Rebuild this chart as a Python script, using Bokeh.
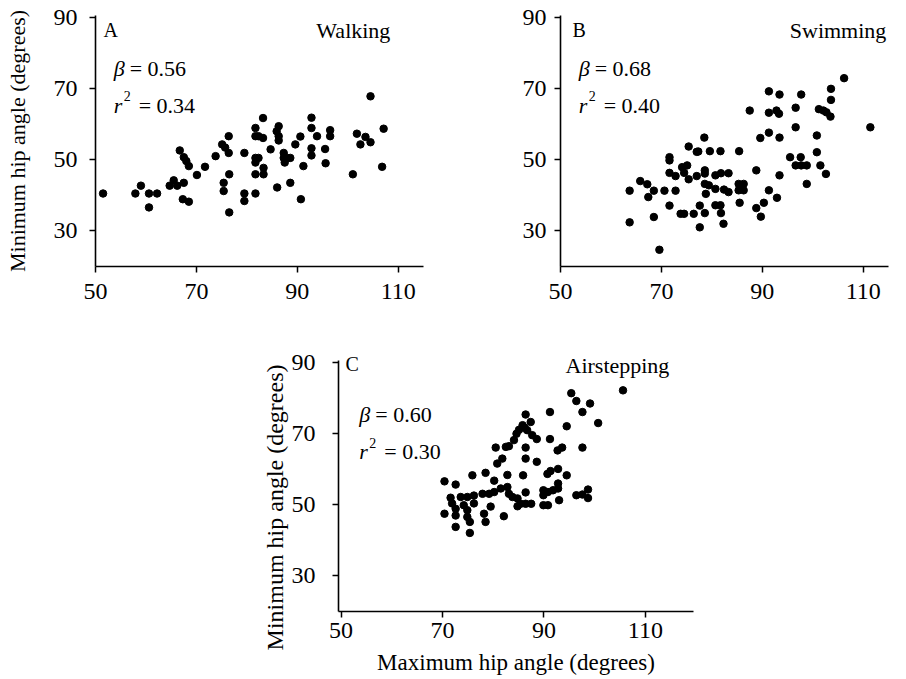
from bokeh.plotting import figure
from bokeh.models import Label, FixedTicker, Range1d, Spacer
from bokeh.layouts import column, row
from bokeh.embed import file_html
from bokeh.resources import INLINE

FONT = "Liberation Serif"

# ---------------- data ----------------
walk_x = [51.5, 57.9, 59.0, 60.6, 60.6, 62.2, 64.7, 65.5, 66.2, 67.5, 66.7, 67.5, 68.0, 68.5,
          67.3, 68.5, 70.1, 71.7, 73.8, 75.4, 75.4, 75.1, 75.7, 76.4, 76.4, 76.5, 76.5, 79.5,
          79.5, 79.5, 81.7, 81.7, 81.7, 82.3, 83.2, 83.2, 84.7, 81.7, 82.3, 81.7, 83.3, 83.3,
          81.7, 86.0, 88.6, 90.7, 86.3, 85.9, 86.3, 86.3, 87.3, 87.3, 88.0, 88.6, 87.5, 89.6,
          90.6, 91.2, 92.8, 92.8, 93.9, 92.8, 92.8, 95.5, 95.6, 96.5, 96.5, 101.0, 101.8, 103.5,
          102.5, 104.5, 104.5, 107.1, 106.8]
walk_y = [40.5, 40.5, 42.7, 40.5, 36.6, 40.5, 42.7, 44.2, 42.7, 43.5, 52.6, 50.7, 49.6, 48.2,
          38.9, 38.2, 45.7, 48.0, 51.0, 43.5, 41.2, 54.3, 53.4, 56.6, 51.9, 45.9, 35.2, 51.9,
          40.5, 38.4, 40.5, 58.9, 56.6, 56.6, 61.7, 56.1, 52.9, 50.5, 50.5, 49.2, 47.7, 45.9,
          45.9, 42.2, 43.5, 38.9, 59.4, 58.0, 56.6, 55.4, 51.9, 50.5, 50.5, 50.5, 49.2, 54.3,
          56.5, 48.2, 61.8, 58.9, 56.6, 53.2, 51.2, 53.0, 49.0, 58.3, 56.6, 45.9, 57.3, 56.4,
          54.3, 54.9, 67.8, 58.7, 48.0]

swim_x = [63.7, 63.7, 65.8, 67.2, 67.4, 68.5, 68.5, 69.6, 70.6, 71.6, 71.6, 71.6, 71.6, 72.8,
          72.8, 73.8, 74.5, 74.1, 74.5, 75.1, 75.4, 75.4, 76.4, 77.0, 77.0, 77.6, 77.6, 78.5,
          77.3, 79.6, 81.7, 85.4, 78.6, 78.6, 80.7, 81.8, 83.3, 78.6, 79.4, 78.8, 80.7, 82.4,
          83.3, 85.3, 86.3, 85.3, 86.3, 78.6, 80.7, 81.7, 81.8, 82.3, 85.5, 87.5, 88.8, 88.8,
          89.7, 90.3, 89.6, 91.3, 91.3, 91.3, 92.8, 93.3, 93.4, 93.4, 91.3, 92.9, 93.4, 96.6,
          96.6, 97.7, 95.5, 96.6, 97.6, 97.7, 98.8, 98.8, 100.8, 100.8, 101.5, 102.6, 101.2,
          102.1, 102.7, 103.5, 103.6, 103.6, 106.2, 111.4]
swim_y = [41.3, 32.4, 44.0, 43.1, 39.5, 41.3, 33.9, 24.7, 41.3, 50.7, 49.8, 46.3, 37.1, 41.3,
          45.4, 34.8, 34.8, 47.9, 46.3, 48.4, 44.5, 53.7, 34.8, 52.2, 45.4, 37.1, 31.0, 56.2,
          52.3, 52.4, 52.4, 52.4, 47.0, 46.1, 45.6, 46.2, 46.2, 43.2, 42.8, 40.4, 41.8, 41.6,
          40.9, 43.2, 43.2, 41.4, 41.4, 35.0, 37.2, 37.2, 35.0, 32.0, 37.9, 63.8, 47.0, 36.4,
          34.0, 37.9, 56.1, 57.6, 69.2, 63.2, 63.8, 62.9, 68.3, 56.2, 41.4, 39.3, 45.6, 64.6,
          59.1, 68.3, 50.7, 48.4, 50.7, 48.4, 48.4, 43.2, 56.8, 52.1, 48.4, 46.0, 64.2,
          63.8, 63.3, 62.1, 69.9, 66.8, 72.9, 59.1]

air_x = [70.4, 72.6, 70.4, 71.6, 71.9, 72.6, 72.6, 72.6, 73.6, 74.9, 76.2, 74.2, 74.9, 74.9,
         75.4, 75.4, 75.9, 76.2, 78.2, 78.5, 78.5, 79.5, 80.2, 77.9, 79.2, 80.2, 81.5, 82.8,
         80.5, 80.8, 81.8, 82.5, 82.8, 82.1, 95.4, 96.4, 99.1, 97.6, 100.7, 105.6, 91.2, 94.5,
         86.4, 87.4, 85.8, 85.1, 84.6, 86.2, 86.7, 87.7, 88.6, 84.1, 83.1, 91.2, 92.7, 93.6,
         97.6, 86.4, 86.4, 88.6, 85.9, 90.7, 91.3, 92.8, 94.5, 83.1, 83.8, 84.8, 86.4, 85.4,
         86.4, 87.5, 84.8, 89.9, 89.9, 90.8, 91.8, 92.8, 92.8, 89.9, 90.8, 93.0, 96.4, 97.6,
         98.7, 98.7]
air_y = [56.6, 55.7, 47.5, 52.0, 50.4, 48.9, 47.0, 43.8, 52.2, 52.2, 52.6, 49.9, 48.5, 46.6,
         45.2, 42.1, 58.3, 50.4, 47.5, 45.2, 59.0, 49.5, 56.8, 53.1, 53.1, 53.6, 54.6, 55.0,
         66.1, 61.6, 63.0, 66.3, 58.4, 46.8, 81.4, 79.2, 78.5, 76.1, 73.0, 82.2, 76.1, 72.1,
         75.4, 73.3, 72.4, 71.1, 70.0, 71.7, 71.0, 69.6, 68.5, 68.2, 66.5, 68.5, 65.3, 66.1,
         66.1, 66.1, 63.0, 62.1, 58.3, 58.7, 59.5, 60.1, 58.3, 53.1, 52.2, 51.8, 53.5, 50.3,
         50.3, 50.3, 49.6, 54.1, 52.7, 53.6, 54.1, 56.0, 54.6, 49.9, 49.9, 51.3, 52.7, 52.9,
         54.3, 51.9]

x_ticks = [50, 70, 90, 110]
y_ticks = [30, 50, 70, 90]
panel_letters = ["A", "B", "C"]
panel_names = ["Walking", "Swimming", "Airstepping"]
betas = ["0.56", "0.68", "0.60"]
r2s = ["0.34", "0.40", "0.30"]
y_title = "Minimum hip angle (degrees)"
x_title = "Maximum hip angle (degrees)"


def make_fig(w, h, xr, yr, bl, br, bt, bb, ystand, xstand, ybounds=None):
    p = figure(width=w, height=h, x_range=Range1d(*xr), y_range=Range1d(*yr),
               output_backend="svg", toolbar_location=None,
               min_border_left=bl, min_border_right=br,
               min_border_top=bt, min_border_bottom=bb)
    p.outline_line_color = None
    p.grid.visible = False
    for ax in (p.xaxis[0], p.yaxis[0]):
        ax.axis_line_width = 1.6
        ax.axis_line_color = "black"
        ax.major_tick_line_width = 1.5
        ax.major_tick_line_color = "black"
        ax.major_tick_out = 6
        ax.major_tick_in = 0
        ax.minor_tick_line_color = None
        ax.major_label_text_font = FONT
        ax.major_label_text_font_size = "24px"
        ax.major_label_text_color = "black"
        ax.axis_label_text_font = FONT
        ax.axis_label_text_font_style = "normal"
        ax.axis_label_text_color = "black"
    p.xaxis[0].ticker = FixedTicker(ticks=x_ticks)
    p.yaxis[0].ticker = FixedTicker(ticks=y_ticks)
    p.xaxis[0].major_label_standoff = xstand
    p.yaxis[0].major_label_standoff = ystand
    if ybounds is not None:
        p.yaxis[0].bounds = ybounds
    return p


def txt(p, x, y, s, size="22px", style="normal", align="left", xo=0, yo=0):
    p.add_layout(Label(x=x, y=y, text=s, text_font=FONT, text_font_size=size,
                       text_font_style=style, text_align=align, text_baseline="alphabetic",
                       text_color="black", x_offset=xo, y_offset=yo))


def annotate(p, i, lx, ly, nx, ny, sx, by, ry):
    txt(p, lx, ly, panel_letters[i], size="20px")
    txt(p, nx, ny, panel_names[i], align="center")
    txt(p, sx, by, "\u03b2", style="italic")
    txt(p, sx, by, "= " + betas[i], xo=16)
    txt(p, sx, ry, "r", style="italic")
    txt(p, sx, ry, "2", size="14px", xo=10, yo=9)
    txt(p, sx, ry, "= " + r2s[i], xo=25)


# Panel A
pA = make_fig(453, 310, (50, 115), (20, 90.5), 95, 30, 15, 44, 12, 11)
pA.scatter(walk_x, walk_y, size=7.5, color="black")
annotate(pA, 0, 51.6, 86.3, 101.1, 86.4, 53.6, 75.7, 65.3)
pA.yaxis[0].axis_label = y_title
pA.yaxis[0].axis_label_text_font_size = "22px"
pA.yaxis[0].axis_label_standoff = 21

# Panel B
pB = make_fig(453, 310, (50, 115), (20, 90.5), 107, 18, 15, 44, 8, 11)
pB.scatter(swim_x, swim_y, size=7.5, color="black")
annotate(pB, 1, 52.4, 86.4, 105.0, 86.4, 53.6, 75.7, 65.3)

# Panel C (frame extends a little above the axis so the top texts are not clipped)
pC = make_fig(463, 369, (49.5, 119.5), (20, 92), 93, 15, 45, 68, 17, 5, ybounds=(20, 90.5))
pC.scatter(air_x, air_y, size=7.5, color="black")
annotate(pC, 2, 50.9, 89.6, 104.5, 89.2, 53.6, 75.3, 65.0)
pC.yaxis[0].axis_label = y_title + "\u00a0" * 8
pC.yaxis[0].axis_label_text_font_size = "24px"
pC.yaxis[0].axis_label_standoff = 1
pC.xaxis[0].axis_label = x_title
pC.xaxis[0].axis_label_text_font_size = "23px"
pC.xaxis[0].axis_label_standoff = 9

layout = column(row(pA, pB), row(Spacer(width=245, height=369), pC))

open("out.html", "w").write(file_html(layout, INLINE))
